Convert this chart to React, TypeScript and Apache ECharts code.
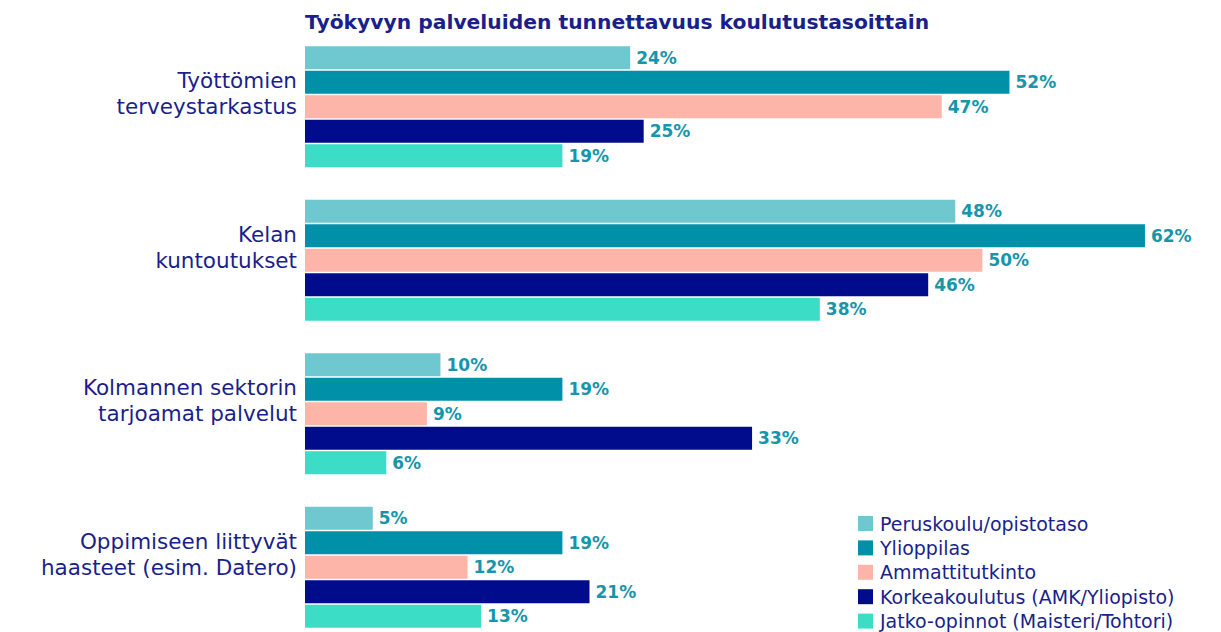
import React, { useEffect, useRef } from "react";
import * as echarts from "echarts";

const categories = [
  "Työttömien\nterveystarkastus",
  "Kelan\nkuntoutukset",
  "Kolmannen sektorin\ntarjoamat palvelut",
  "Oppimiseen liittyvät\nhaasteet (esim. Datero)",
];
const seriesNames = [
  "Peruskoulu/opistotaso",
  "Ylioppilas",
  "Ammattitutkinto",
  "Korkeakoulutus (AMK/Yliopisto)",
  "Jatko-opinnot (Maisteri/Tohtori)",
];
const peruskoulu = [24, 48, 10, 5];
const ylioppilas = [52, 62, 19, 19];
const ammatti = [47, 50, 9, 12];
const korkea = [25, 46, 33, 21];
const jatko = [19, 38, 6, 13];
const colors = ["#6FC7D0", "#0090A8", "#FDB5AA", "#000C8C", "#3BDDC6"];
const title = "Työkyvyn palveluiden tunnettavuus koulutustasoittain";

const FONT = "'DejaVu Sans', sans-serif";

export default function App() {
  const ref = useRef<HTMLDivElement>(null);
  useEffect(() => {
    const chart = echarts.init(ref.current!, null, { renderer: "svg" });
    const data = [peruskoulu, ylioppilas, ammatti, korkea, jatko];
    chart.setOption({
      animation: false,
      title: {
        text: title,
        left: 300,
        top: 7,
        textStyle: { color: "#1A1F8C", fontSize: 20.3, fontWeight: "bold", fontFamily: FONT },
      },
      legend: {
        orient: "vertical",
        left: 858,
        top: 514,
        padding: 0,
        itemWidth: 15,
        itemHeight: 15,
        itemGap: 5.4,
        icon: "rect",
        textStyle: {
          color: "#1A1F8C",
          fontSize: 19,
          fontFamily: FONT,
          padding: [0, 0, 0, 2],
        },
        data: seriesNames,
      },
      grid: { left: 305, right: 35.4, top: 30, bottom: 16 },
      xAxis: { type: "value", min: 0, max: 65, show: false },
      yAxis: {
        type: "category",
        inverse: true,
        data: categories,
        axisLine: { show: false },
        axisTick: { show: false },
        axisLabel: {
          margin: 8,
          color: "#1A1F8C",
          fontSize: 21.5,
          lineHeight: 26,
          fontFamily: FONT,
          formatter: (v: string) => v + "\n",
        },
      },
      series: seriesNames.map((name, i) => ({
        name,
        type: "bar",
        data: data[i],
        barWidth: 23,
        barGap: "6.5%",
        itemStyle: { color: colors[i] },
        label: {
          show: true,
          position: "right",
          distance: 6,
          formatter: "{c}%",
          color: "#1795AA",
          fontSize: 17,
          fontWeight: "bold",
          fontFamily: FONT,
        },
      })),
    });
    return () => chart.dispose();
  }, []);
  return (
    <div
      ref={ref}
      style={{ position: "absolute", left: 0, top: 0, width: 1221, height: 660 }}
    />
  );
}
